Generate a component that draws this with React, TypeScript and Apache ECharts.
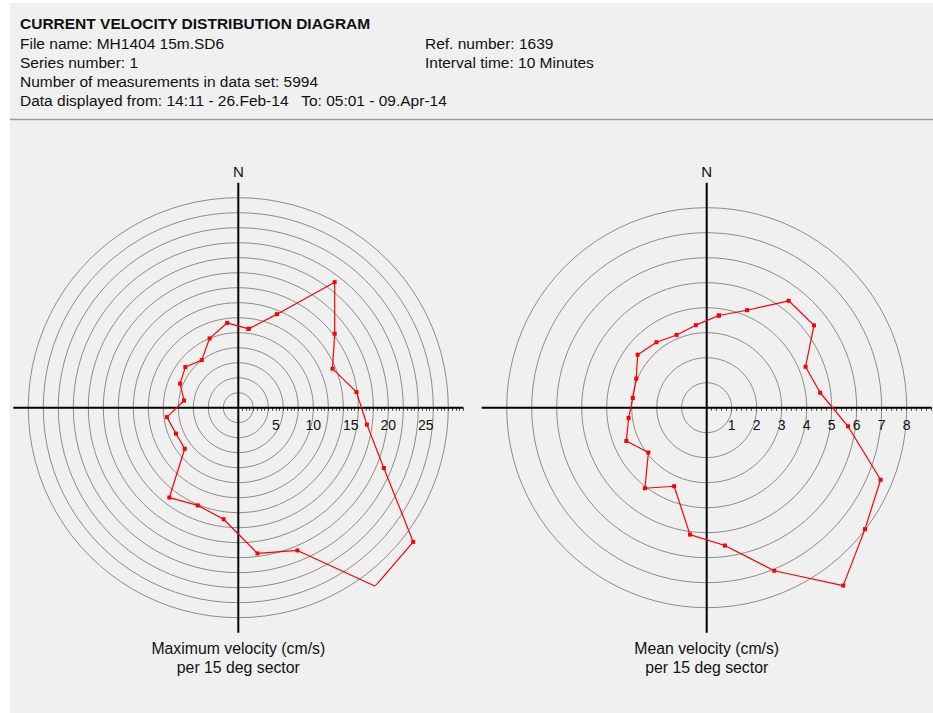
import React, { useEffect, useRef } from "react";
import * as echarts from "echarts";

// Sector centre bearings (degrees clockwise from North), 15 deg sectors
const sectorAngles = [
  7.5, 22.5, 37.5, 52.5, 67.5, 82.5, 97.5, 112.5, 127.5, 142.5, 157.5, 172.5,
  187.5, 202.5, 217.5, 232.5, 247.5, 262.5, 277.5, 292.5, 307.5, 322.5, 337.5, 352.5,
];

// Maximum velocity (cm/s) per sector
const maxVelocity = [
  10.6, 13.5, 21.1, 16.2, 13.6, 15.9, 17.3, 21.0, 29.4, 30.0, 20.6, 19.6,
  15.0, 14.1, 15.1, 9.0, 9.0, 9.6, 7.3, 8.4, 8.9, 8.0, 10.0, 11.4,
];

// Mean velocity (cm/s) per sector
const meanVelocity = [
  3.72, 4.22, 5.39, 5.41, 4.28, 4.58, 5.7, 7.53, 7.98, 8.97, 7.06, 5.56,
  5.12, 3.4, 4.06, 2.94, 3.48, 3.15, 2.98, 3.05, 3.48, 3.3, 3.15, 3.33,
];

const maxTickLabels = ["5", "10", "15", "20", "25"];
const meanTickLabels = ["1", "2", "3", "4", "5", "6", "7", "8"];

const headerTitle = "CURRENT VELOCITY DISTRIBUTION DIAGRAM";
const headerLeft = [
  "File name: MH1404 15m.SD6",
  "Series number: 1",
  "Number of measurements in data set: 5994",
  "Data displayed from: 14:11 - 26.Feb-14   To: 05:01 - 09.Apr-14",
];
const headerRight = ["Ref. number: 1639", "Interval time: 10 Minutes"];
const captionMax = ["Maximum velocity (cm/s)", "per 15 deg sector"];
const captionMean = ["Mean velocity (cm/s)", "per 15 deg sector"];

const FONT = "'Liberation Sans', Arial, sans-serif";

export default function App() {
  const ref = useRef<HTMLDivElement>(null);

  useEffect(() => {
    if (!ref.current) return;
    const chart = echarts.init(ref.current, undefined, { renderer: "svg" });

    const cL = [238.3, 407.7];
    const cR = [706.7, 407.7];
    const R = 225;
    const maxL = 30;
    const maxR = 9;

    const ringColors = (n: number) => {
      const arr: string[] = [];
      for (let i = 0; i < n; i++) arr.push("#8c8c8c");
      arr.push("rgba(0,0,0,0)");
      return arr;
    };

    const closed = (vals: number[]) => {
      const d = sectorAngles.map((a, i) => [vals[i], a]);
      d.push([vals[0], sectorAngles[0]]);
      return d;
    };

    const dataAngleAxis = (polarIndex: number) => ({
      polarIndex,
      type: "value",
      min: 0,
      max: 360,
      interval: 90,
      startAngle: 90,
      clockwise: true,
      z: 1,
      axisLine: { show: false },
      axisTick: { show: false },
      axisLabel: {
        show: true,
        margin: 4,
        fontSize: 15,
        fontFamily: FONT,
        color: "#111",
        formatter: (v: number) => (v === 0 ? "N" : ""),
      },
      splitLine: { show: true, lineStyle: { color: "#000", width: 2 } },
    });

    const labelRadiusAxis = (
      polarIndex: number,
      max: number,
      interval: number,
      minorSplit: number,
      labels: string[]
    ) => ({
      polarIndex,
      type: "value",
      min: 0,
      max,
      interval,
      axisLine: { show: false },
      axisTick: { show: true, length: -3, lineStyle: { color: "#444", width: 1 } },
      minorTick: {
        show: true,
        splitNumber: minorSplit,
        length: -3,
        lineStyle: { color: "#444", width: 1 },
      },
      splitLine: { show: false },
      axisLabel: {
        show: true,
        margin: -17,
        verticalAlign: "middle",
        fontSize: 14,
        fontFamily: FONT,
        color: "#111",
        showMinLabel: false,
        showMaxLabel: false,
        formatter: (v: number) => (labels.includes(String(v)) ? String(v) : ""),
      },
    });

    const textEl = (x: number, y: number, text: string, opts: any = {}) => ({
      type: "text",
      x,
      y,
      silent: true,
      style: {
        text,
        fill: "#111",
        fontSize: 15.5,
        fontFamily: FONT,
        verticalAlign: "middle",
        textAlign: "left",
        ...opts,
      },
    });

    const graphics: any[] = [
      { type: "rect", shape: { x: 0, y: 0, width: 10, height: 713 }, style: { fill: "#fff" }, silent: true },
      { type: "rect", shape: { x: 0, y: 0, width: 933, height: 3 }, style: { fill: "#fff" }, silent: true },
      {
        type: "line",
        shape: { x1: 10, y1: 119.5, x2: 933, y2: 119.5 },
        style: { stroke: "#9a9a9a", lineWidth: 1.5 },
        silent: true,
      },
      textEl(20, 23, headerTitle, { fontWeight: "bold" }),
      ...headerLeft.map((t, i) => textEl(20, 43.3 + i * 19.2, t)),
      ...headerRight.map((t, i) => textEl(425, 43.3 + i * 19.2, t)),
      ...captionMax.map((t, i) =>
        textEl(cL[0], 648 + i * 19, t, { textAlign: "center", fontSize: 15.8 })
      ),
      ...captionMean.map((t, i) =>
        textEl(cR[0], 648 + i * 19, t, { textAlign: "center", fontSize: 15.8 })
      ),
    ];

    const option: any = {
      animation: false,
      backgroundColor: "#f0f0f0",
      textStyle: { fontFamily: FONT },
      polar: [
        { center: cL, radius: R },
        { center: cL, radius: R },
        { center: cR, radius: R },
        { center: cR, radius: R },
      ],
      angleAxis: [
        dataAngleAxis(0),
        { polarIndex: 1, type: "value", min: 0, max: 360, startAngle: 0, show: false },
        dataAngleAxis(2),
        { polarIndex: 3, type: "value", min: 0, max: 360, startAngle: 0, show: false },
      ],
      radiusAxis: [
        {
          polarIndex: 0,
          type: "value",
          min: 0,
          max: maxL,
          interval: 2,
          axisLine: { show: false },
          axisTick: { show: false },
          axisLabel: { show: false },
          splitLine: { show: true, lineStyle: { color: ringColors(15), width: 1 } },
        },
        labelRadiusAxis(1, maxL, 5, 10, maxTickLabels),
        {
          polarIndex: 2,
          type: "value",
          min: 0,
          max: maxR,
          interval: 1,
          axisLine: { show: false },
          axisTick: { show: false },
          axisLabel: { show: false },
          splitLine: { show: true, lineStyle: { color: ringColors(9), width: 1 } },
        },
        labelRadiusAxis(3, maxR, 1, 5, meanTickLabels),
      ],
      series: [
        {
          type: "line",
          name: "Maximum velocity",
          coordinateSystem: "polar",
          polarIndex: 0,
          data: closed(maxVelocity),
          symbol: "rect",
          symbolSize: 4,
          itemStyle: { color: "#ff0000" },
          lineStyle: { color: "#ff0000", width: 1.2 },
          z: 5,
        },
        {
          type: "line",
          name: "Mean velocity",
          coordinateSystem: "polar",
          polarIndex: 2,
          data: closed(meanVelocity),
          symbol: "rect",
          symbolSize: 4,
          itemStyle: { color: "#ff0000" },
          lineStyle: { color: "#ff0000", width: 1.2 },
          z: 5,
        },
      ],
      graphic: graphics,
    };

    chart.setOption(option);
    return () => chart.dispose();
  }, []);

  return (
    <div
      ref={ref}
      style={{ position: "fixed", left: 0, top: 0, width: 933, height: 713 }}
    />
  );
}
